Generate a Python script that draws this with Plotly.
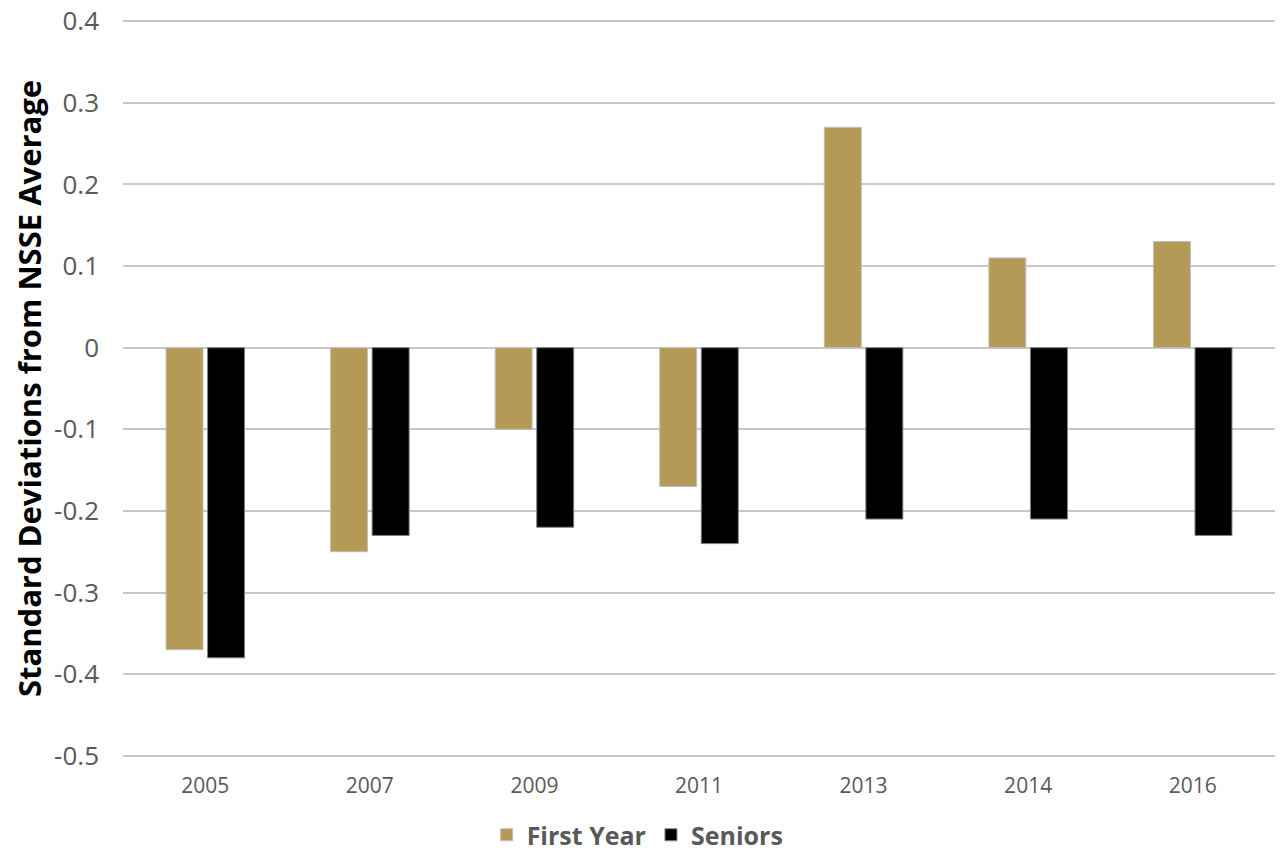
import plotly.graph_objects as go

years = ["2005", "2007", "2009", "2011", "2013", "2014", "2016"]
first_year = [-0.37, -0.25, -0.10, -0.17, 0.27, 0.11, 0.13]
seniors = [-0.38, -0.23, -0.22, -0.24, -0.21, -0.21, -0.23]

fig = go.Figure()
fig.add_trace(go.Bar(x=years, y=first_year, name="First Year",
                     marker=dict(color="#B59A57", line=dict(color="#BFBFBF", width=1))))
fig.add_trace(go.Bar(x=years, y=seniors, name="Seniors",
                     marker=dict(color="#000000", line=dict(color="#7F7F7F", width=1))))

fig.update_layout(
    width=1283, height=858,
    margin=dict(l=123, r=8, t=20, b=101, autoexpand=False),
    plot_bgcolor="white", paper_bgcolor="white",
    barmode="group", bargap=0.495, bargroupgap=0.11,
    font=dict(family="Open Sans", color="#595959"),
    showlegend=True,
    legend=dict(orientation="h", xref="container", x=0.497, xanchor="center",
                yref="container", y=0.0, yanchor="bottom",
                font=dict(size=25, color="#595959", family="Open Sans", weight="bold"),
                traceorder="normal"),
    xaxis=dict(showgrid=False, showline=False, ticks="", tickfont=dict(size=21, color="#595959"),
               ticklabelstandoff=14),
    yaxis=dict(range=[-0.5015, 0.4015], showgrid=True, gridcolor="#C8C8C8", gridwidth=2,
               zeroline=False, showline=False, tickfont=dict(size=26, color="#595959"),
               ticklabelstandoff=23, ticklabeloverflow="allow",
               title=dict(text="Standard Deviations from NSSE Average", standoff=3,
                          font=dict(size=31, color="#000000", family="Open Sans", weight="bold"))),
)
fig.update_yaxes(tickvals=[0.4, 0.3, 0.2, 0.1, 0, -0.1, -0.2, -0.3, -0.4, -0.5],
                 ticktext=["0.4", "0.3", "0.2", "0.1", "0", "-0.1", "-0.2", "-0.3", "-0.4", "-0.5"])

fig.write_html("out.html", config={"displayModeBar": False},
               post_script="document.body.style.margin='0';document.body.style.overflow='hidden';")
